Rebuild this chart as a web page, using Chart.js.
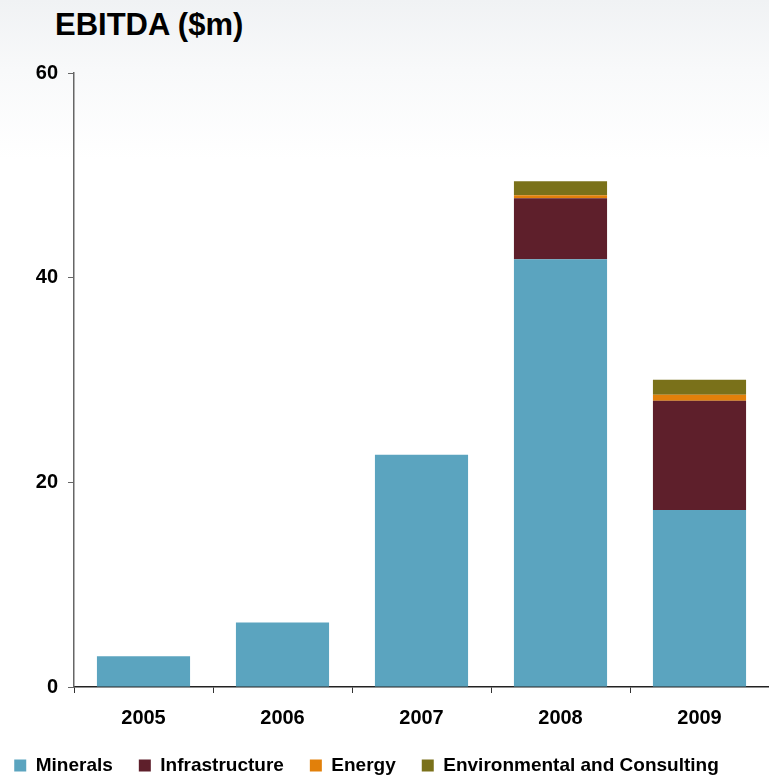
<!DOCTYPE html>
<html>
<head>
<meta charset="utf-8">
<script src="https://cdn.jsdelivr.net/npm/chart.js@4"></script>
<style>
    html, body { margin: 0; padding: 0; }
    body {
        width: 769px;
        height: 777px;
        overflow: hidden;
        background: linear-gradient(#f0f2f4 0px, #f8f9fa 70px, #ffffff 160px);
        font-family: "Liberation Sans", Arial, sans-serif;
    }
    #wrap { position: relative; width: 769px; height: 777px; }
    #title {
        position: absolute;
        left: 55px;
        top: 7px;
        font-size: 31px;
        font-weight: bold;
        color: #000;
    }
    #ebitdaChart { position: absolute; left: 0; top: 0; }
</style>
</head>
<body>
<div id="wrap">
    <div id="title">EBITDA ($m)</div>
    <canvas id="ebitdaChart" width="769" height="777"></canvas>
</div>
<script>
// ========== EBITDA 数据 ==========
const years = ['2005', '2006', '2007', '2008', '2009'];
const minerals = [3.0, 6.3, 22.7, 41.8, 17.3];
const infrastructure = [null, null, null, 5.97, 10.67];
const energy = [null, null, null, 0.29, 0.59];
const environmental = [null, null, null, 1.37, 1.47];
const yTicks = [0, 20, 40, 60];

const COLORS = {
    minerals: '#5BA4BF',
    infrastructure: '#5E1F2B',
    energy: '#E2800A',
    environmental: '#7A711A'
};

const FONT = '"Liberation Sans", Arial, sans-serif';

// legend sits a little left of centre in the original
const shiftLegend = {
    id: 'shiftLegend',
    afterLayout(chart) {
        if (!chart.legend) return;
        chart.legend.left -= 18;
        chart.legend.right -= 18;
    }
};

function initEbitdaChart() {
    const ctx = document.getElementById('ebitdaChart');
    if (!ctx) return;

    new Chart(ctx, {
        type: 'bar',
        data: {
            labels: years,
            datasets: [{
                label: 'Minerals',
                data: minerals,
                backgroundColor: COLORS.minerals
            }, {
                label: 'Infrastructure',
                data: infrastructure,
                backgroundColor: COLORS.infrastructure
            }, {
                label: 'Energy',
                data: energy,
                backgroundColor: COLORS.energy
            }, {
                label: 'Environmental and Consulting',
                data: environmental,
                backgroundColor: COLORS.environmental
            }]
        },
        plugins: [shiftLegend],
        options: {
            responsive: false,
            devicePixelRatio: 1,
            animation: false,
            categoryPercentage: 1,
            barPercentage: 0.67,
            layout: {
                padding: { top: 73, right: 0, bottom: -8, left: 0 }
            },
            plugins: {
                title: { display: false },
                tooltip: { enabled: false },
                legend: {
                    position: 'bottom',
                    labels: {
                        boxWidth: 12,
                        boxHeight: 12,
                        padding: 26,
                        color: '#000',
                        font: { family: FONT, size: 19, weight: 'bold' }
                    }
                }
            },
            scales: {
                x: {
                    stacked: true,
                    grid: {
                        display: true,
                        drawOnChartArea: false,
                        drawTicks: true,
                        tickLength: 6,
                        color: '#333',
                        offset: true
                    },
                    border: { display: true, color: '#222', width: 1.5 },
                    ticks: {
                        color: '#000',
                        padding: 13,
                        font: { family: FONT, size: 20, weight: 'bold' }
                    },
                    afterFit: function(scale) {
                        scale.height = 43;
                    }
                },
                y: {
                    stacked: true,
                    min: 0,
                    max: 60,
                    afterBuildTicks: function(scale) {
                        scale.ticks = yTicks.map(v => ({ value: v }));
                    },
                    grid: {
                        display: true,
                        drawOnChartArea: false,
                        drawTicks: true,
                        tickLength: 6,
                        color: '#666'
                    },
                    border: { display: true, color: '#666', width: 1.5 },
                    ticks: {
                        color: '#000',
                        padding: 10,
                        font: { family: FONT, size: 20, weight: 'bold' }
                    },
                    afterFit: function(scale) {
                        scale.width = 74;
                    }
                }
            }
        }
    });
}

initEbitdaChart();
</script>
</body>
</html>
